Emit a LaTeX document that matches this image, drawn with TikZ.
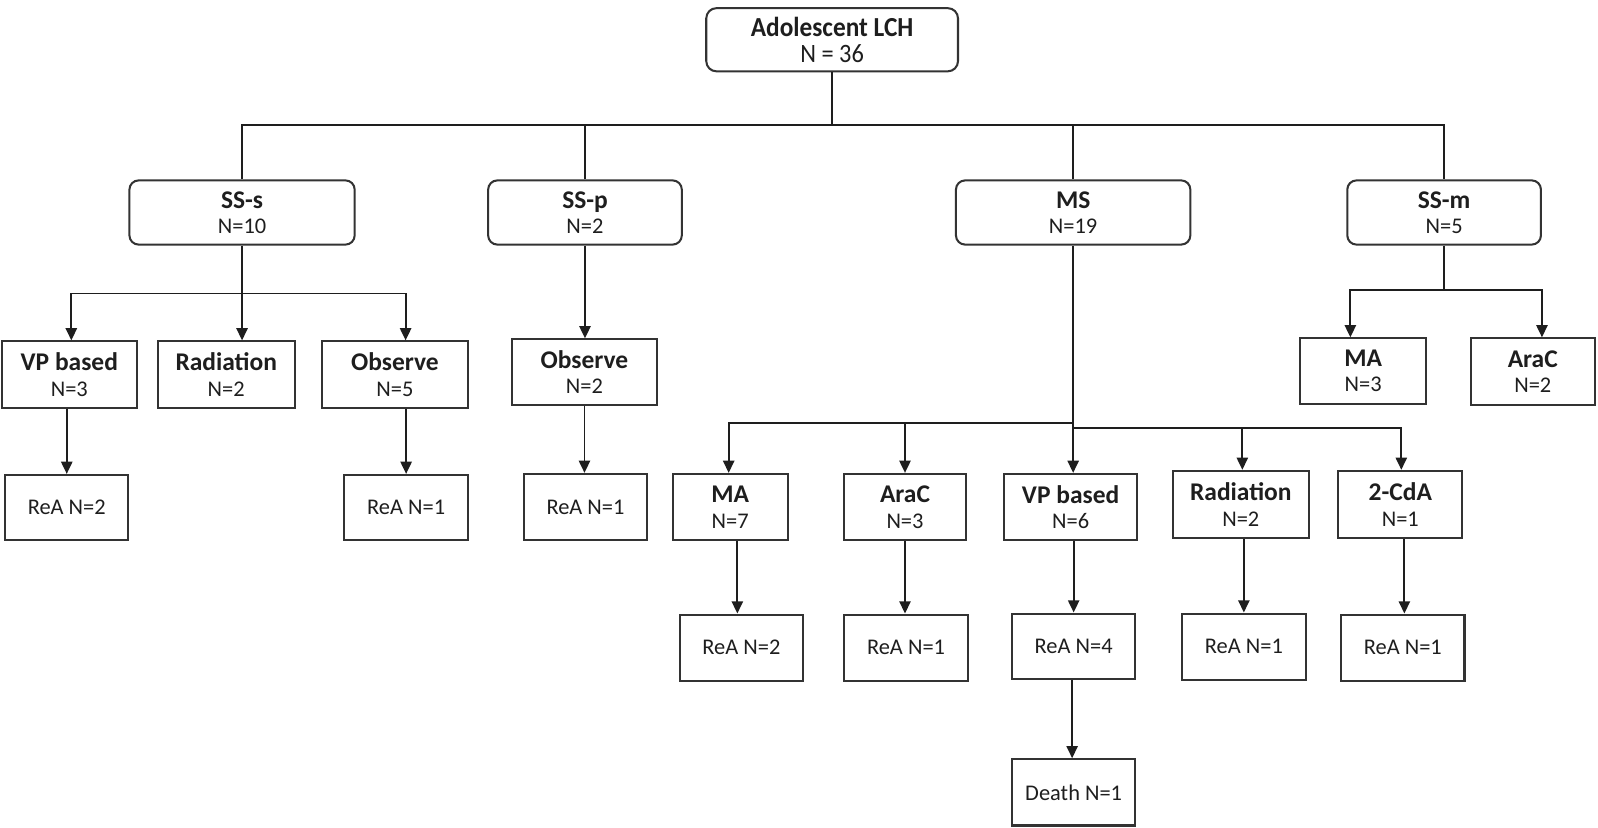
\documentclass[tikz,border=0pt]{standalone}
\usepackage{fontspec}
\setmainfont{Carlito}
\newfontfamily\condfont{Carlito}[FakeStretch=0.92]
\usetikzlibrary{arrows.meta}
\definecolor{ink}{HTML}{1E1E1E}
\definecolor{edge}{HTML}{333333}
\tikzset{
  x=1pt, y=-1pt,
  basebox/.style={draw=edge, line width=2pt, inner sep=0pt, align=center, text=ink,
     font=\fontsize{22}{25}\selectfont},
  rbox/.style={basebox, rounded corners=9pt},
  sbox/.style={basebox},
  link/.style={draw=ink, line width=1.9pt},
  arr/.style={link, -{Triangle[length=12pt,width=11pt]}},
}
\newcommand{\hd}[1]{{\fontsize{25}{25}\selectfont\bfseries #1}}
\begin{document}
\begin{tikzpicture}
\useasboundingbox (0,0) rectangle (1568,812);
% top
\node[rbox, rounded corners=10pt, minimum width=247pt, minimum height=62pt] (top) at (816.5,39)
  {\condfont{\fontsize{27}{25}\selectfont\bfseries Adolescent LCH}\\[1pt]\condfont{\fontsize{26}{25}\selectfont N = 36}};
% level 1
\node[rbox, minimum width=221pt, minimum height=63pt] (sss) at (237.5,208.5) {\hd{SS-s}\\N=10};
\node[rbox, minimum width=190pt, minimum height=63pt] (ssp) at (574,208.5) {\hd{SS-p}\\N=2};
\node[rbox, minimum width=230pt, minimum height=63pt] (ms) at (1053,208.5) {\hd{MS}\\N=19};
\node[rbox, minimum width=190pt, minimum height=63pt] (ssm) at (1417,208.5) {\hd{SS-m}\\N=5};
% SS-s children
\node[sbox, minimum width=133pt, minimum height=65pt] (ssvp) at (68,367.5) {\hd{VP based}\\N=3};
\node[sbox, minimum width=134pt, minimum height=65pt] (ssrad) at (222,367.5) {\hd{Radiation}\\N=2};
\node[sbox, minimum width=143pt, minimum height=65pt] (ssobs) at (387.5,367.5) {\hd{Observe}\\N=5};
\node[sbox, minimum width=121pt, minimum height=64pt] (ssvpr) at (65.5,498) {ReA N=2};
\node[sbox, minimum width=121pt, minimum height=64pt] (ssobsr) at (398.5,498) {ReA N=1};
% SS-p children
\node[sbox, minimum width=143pt, minimum height=64pt] (sspobs) at (573.5,365) {\hd{Observe}\\N=2};
\node[sbox, minimum width=121pt, minimum height=65pt] (sspobsr) at (574.5,497.5) {ReA N=1};
% MS children
\node[sbox, minimum width=113pt, minimum height=65pt] (msma) at (716.5,497.5) {\hd{MA}\\N=7};
\node[sbox, minimum width=120pt, minimum height=65pt] (msara) at (888,497.5) {\hd{AraC}\\N=3};
\node[sbox, minimum width=131pt, minimum height=65pt] (msvp) at (1050.5,497.5) {\hd{VP based}\\N=6};
\node[sbox, minimum width=133pt, minimum height=66pt] (msrad) at (1217.5,495) {\hd{Radiation}\\N=2};
\node[sbox, minimum width=122pt, minimum height=66pt] (mscda) at (1374,495) {\hd{2-CdA}\\N=1};
\node[sbox, minimum width=121pt, minimum height=65pt] (msmar) at (727.5,635.5) {ReA N=2};
\node[sbox, minimum width=122pt, minimum height=65pt] (msarar) at (889,635.5) {ReA N=1};
\node[sbox, minimum width=121pt, minimum height=64pt] (msvpr) at (1053.5,634) {ReA N=4};
\node[sbox, minimum width=121pt, minimum height=65pt] (msradr) at (1220.5,634.5) {ReA N=1};
\node[sbox, minimum width=121pt, minimum height=65pt] (mscdar) at (1376.5,635.5) {ReA N=1};
\node[sbox, minimum width=121pt, minimum height=65pt] (death) at (1053.5,777.5) {Death N=1};
% SS-m children
\node[sbox, minimum width=123pt, minimum height=64pt] (ssmma) at (1337.5,364) {\hd{MA}\\N=3};
\node[sbox, minimum width=122pt, minimum height=65pt] (ssmara) at (1504,364.5) {\hd{AraC}\\N=2};

% connectors: top -> level 1
\coordinate (b1) at (816.5,123);
\draw[link] (top.south) -- (b1);
\draw[link] (sss.north) -- (sss.north |- b1) -- (ssm.north |- b1) -- (ssm.north);
\draw[link] (ssp.north) -- (ssp.north |- b1);
\draw[link] (ms.north) -- (ms.north |- b1);
% SS-s
\coordinate (b2) at (237.5,288);
\draw[link] (sss.south) -- (b2);
\draw[arr] (b2) -| ([xshift=2pt]ssvp.north);
\draw[arr] (b2) -- (b2 |- ssrad.north);
\draw[arr] (b2) -| ([xshift=10.5pt]ssobs.north);
\draw[arr] ([xshift=-2.5pt]ssvp.south) -- ([xshift=-2.5pt]ssvp.south |- ssvpr.north);
\draw[arr] (ssobsr.north |- ssobs.south) -- (ssobsr.north);
% SS-p
\draw[arr] (ssp.south) -- (ssp.south |- sspobs.north);
\draw[arr] (sspobs.south) -- (sspobs.south |- sspobsr.north);
% MS
\coordinate (b3) at (1053,415);
\coordinate (b3r) at (1053,420);
\draw[link] (ms.south) -- (b3r);
\draw[arr] (b3) -| ([xshift=-1.5pt]msma.north);
\draw[arr] (b3 -| msara.north) -- (msara.north);
\draw[arr] (b3r) -- (b3r |- msvp.north);
\draw[arr] (b3r) -| ([xshift=1.5pt]msrad.north);
\draw[arr] (b3r) -| ([xshift=1pt]mscda.north);
\draw[arr] ([xshift=-4pt]msmar.north |- msma.south) -- ([xshift=-4pt]msmar.north);
\draw[arr] (msara.south) -- (msara.south |- msarar.north);
\draw[arr] (msvpr.north |- msvp.south) -- (msvpr.north);
\draw[arr] (msradr.north |- msrad.south) -- (msradr.north);
\draw[arr] ([xshift=1.5pt]mscdar.north |- mscda.south) -- ([xshift=1.5pt]mscdar.north);
\draw[arr] ([xshift=-1.5pt]msvpr.south) -- ([xshift=-1.5pt]msvpr.south |- death.north);
% SS-m
\coordinate (b4) at (1417,285);
\draw[link] (ssm.south) -- (b4);
\draw[arr] (b4) -| ([xshift=-12.5pt]ssmma.north);
\draw[arr] (b4) -| ([xshift=9pt]ssmara.north);
\end{tikzpicture}
\end{document}
